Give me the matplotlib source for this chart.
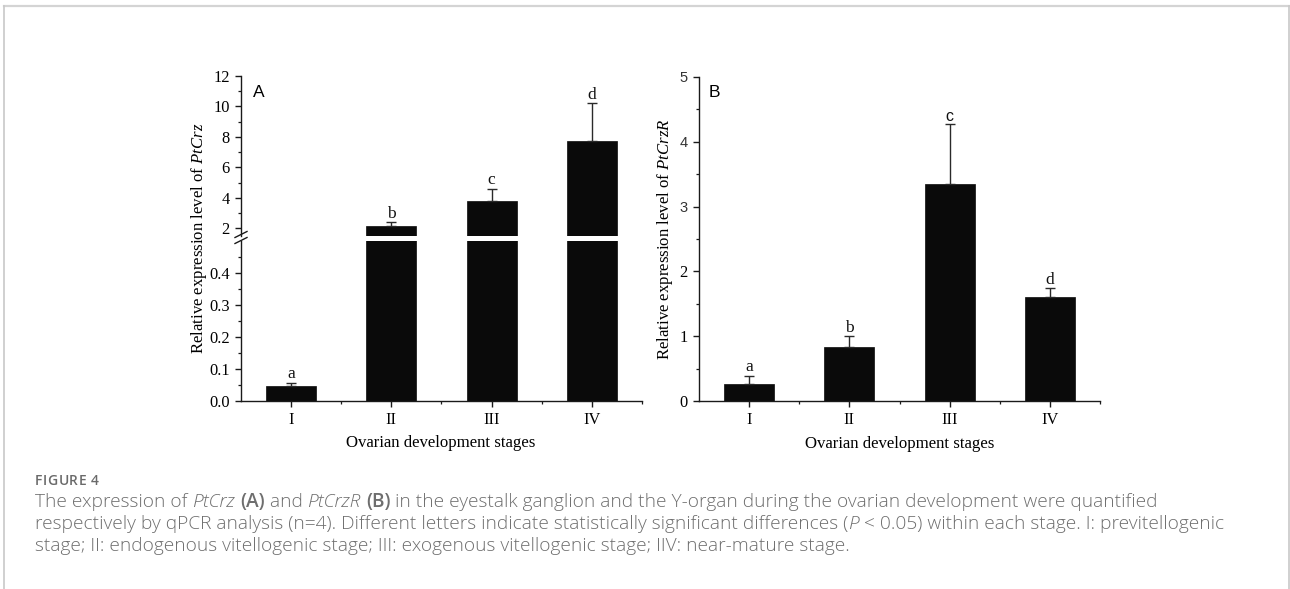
import matplotlib
matplotlib.use("Agg")
import matplotlib.pyplot as plt
from matplotlib.lines import Line2D
from matplotlib.font_manager import FontProperties
import numpy as np

plt.rcParams["mathtext.fontset"] = "custom"
plt.rcParams["mathtext.it"] = "Liberation Serif:italic"
plt.rcParams["mathtext.rm"] = "Liberation Serif"

# ---------------- data ----------------
stages = ["I", "II", "III", "IV"]
crz_mean = [0.048, 2.13, 3.82, 7.74]
crz_err = [0.009, 0.26, 0.78, 2.48]
crz_letters = ["a", "b", "c", "d"]
crzr_mean = [0.26, 0.83, 3.35, 1.60]
crzr_err = [0.13, 0.17, 0.92, 0.14]
crzr_letters = ["a", "b", "c", "d"]

W, H = 1290, 589
DPI = 100
fig = plt.figure(figsize=(W / DPI, H / DPI), dpi=DPI)
fig.patch.set_facecolor("white")

SERIF = ["Liberation Serif", "DejaVu Serif"]
SANS = ["Liberation Sans", "DejaVu Sans"]
BAR_C = "#0a0a0a"
ERR_C = "#2a2a2a"
TICK_FS = 11.8
LAB_FS = 12.1
LET_FS = 12.5


def px_axes(x0, y_top, x1, y_bot):
    return fig.add_axes([x0 / W, 1 - y_bot / H, (x1 - x0) / W, (y_bot - y_top) / H])


def style_axes(ax):
    for s in ["top", "right"]:
        ax.spines[s].set_visible(False)
    for s in ["left", "bottom"]:
        ax.spines[s].set_linewidth(1.0)
        ax.spines[s].set_color("#1a1a1a")
    ax.tick_params(which="major", direction="out", length=4, width=1.0,
                   labelsize=TICK_FS, color="#1a1a1a", pad=4)
    ax.tick_params(axis="x", which="major", pad=4)
    ax.tick_params(which="minor", direction="out", length=2.5, width=0.9,
                   color="#1a1a1a")
    for lab in ax.get_xticklabels() + ax.get_yticklabels():
        lab.set_fontfamily(SERIF)


def draw_bars(ax, means, errs, letters, show_letters=True, lo=None, hi=None,
              sans_letters=()):
    x = np.arange(1, len(means) + 1)
    ax.bar(x, means, width=0.5, color=BAR_C, edgecolor=BAR_C, linewidth=0.5, zorder=2)
    for xi, m, e, lt in zip(x, means, errs, letters):
        if lo is not None and not (lo <= m + e <= hi):
            continue
        ax.errorbar([xi], [m], yerr=[[0], [e]], fmt="none", ecolor=ERR_C,
                    elinewidth=1.0, capsize=3.5, capthick=1.0, zorder=3)
        if show_letters:
            fam = SANS if lt in sans_letters else SERIF
            ax.annotate(lt, (xi, m + e), xytext=(0, 0.3), textcoords="offset points",
                        ha="center", va="bottom",
                        fontsize=LET_FS - (1 if lt in sans_letters else 0),
                        fontfamily=fam, color="#111111")


def set_xcats(ax):
    ax.set_xlim(0.5, 4.5)
    ax.set_xticks(np.arange(1, 5))
    ax.set_xticks(np.arange(1.5, 4.6, 1.0), minor=True)
    ax.set_xticklabels(stages)


# ---------------- Panel A (broken axis) ----------------
axA_lo = px_axes(241, 241, 642, 401)
axA_hi = px_axes(241, 76, 642, 236)

draw_bars(axA_lo, crz_mean, crz_err, crz_letters, lo=0, hi=0.5)
axA_lo.set_ylim(0, 0.5)
axA_lo.set_yticks([0.0, 0.1, 0.2, 0.3, 0.4])
axA_lo.set_yticks(np.arange(0.05, 0.5, 0.1), minor=True)
axA_lo.set_yticklabels(["0.0", "0.1", "0.2", "0.3", "0.4"])
set_xcats(axA_lo)
style_axes(axA_lo)

draw_bars(axA_hi, crz_mean, crz_err, crz_letters, lo=1.5, hi=12)
axA_hi.set_ylim(1.5, 12)
axA_hi.set_yticks([2, 4, 6, 8, 10, 12])
axA_hi.set_yticks([3, 5, 7, 9, 11], minor=True)
axA_hi.set_xlim(0.5, 4.5)
axA_hi.set_xticks([])
axA_hi.spines["bottom"].set_visible(False)
style_axes(axA_hi)
axA_hi.tick_params(axis="x", which="both", bottom=False, labelbottom=False)

# break marks
for yb in (234.5, 240.5):
    fig.add_artist(Line2D([(241 - 6) / W, (241 + 6) / W],
                          [1 - (yb + 3) / H, 1 - (yb - 3) / H],
                          color="#1a1a1a", lw=1.0))

axA_hi.text(0.03, 0.895, "A", transform=axA_hi.transAxes, fontsize=12.5,
            fontfamily=SANS, ha="left", va="center")
fig.text(199 / W, 1 - 238 / H, "Relative expression level of $\\mathit{PtCrz}$",
         rotation=90, ha="center", va="center", fontsize=LAB_FS, fontfamily=SERIF)
fig.text(441 / W, 1 - 443 / H, "Ovarian development stages", ha="center",
         va="center", fontsize=LAB_FS, fontfamily=SERIF)

# ---------------- Panel B ----------------
axB = px_axes(699, 77, 1100, 401)
draw_bars(axB, crzr_mean, crzr_err, crzr_letters, sans_letters=("c",))
axB.set_ylim(0, 5)
axB.set_yticks([0, 1, 2, 3, 4, 5])
axB.set_yticks(np.arange(0.5, 5, 1.0), minor=True)
set_xcats(axB)
style_axes(axB)
for lab in axB.get_yticklabels():
    if lab.get_text() in ("3", "4", "5"):
        lab.set_fontfamily(SANS)
        lab.set_fontsize(TICK_FS - 1.3)
        lab.set_color("#333333")
axB.text(0.025, 0.952, "B", transform=axB.transAxes, fontsize=12.5,
         fontfamily=SANS, ha="left", va="center")
fig.text(665 / W, 1 - 239 / H, "Relative expression level of $\\mathit{PtCrzR}$",
         rotation=90, ha="center", va="center", fontsize=LAB_FS, fontfamily=SERIF)
fig.text(900 / W, 1 - 444 / H, "Ovarian development stages", ha="center",
         va="center", fontsize=LAB_FS, fontfamily=SERIF)

# ---------------- frame ----------------
fig.add_artist(Line2D([4 / W, 1288.5 / W], [1 - 5.5 / H, 1 - 5.5 / H], color="#d4d4d4", lw=1.6))
fig.add_artist(Line2D([4 / W, 4 / W], [0, 1 - 5.5 / H], color="#c8c8c8", lw=1.2))
fig.add_artist(Line2D([1288.5 / W, 1288.5 / W], [0, 1 - 5.5 / H], color="#c8c8c8", lw=1.2))

# ---------------- caption ----------------
CAP_FAM = ["Open Sans", "DejaVu Sans"]
CAP_C = "#6e6e6e"
renderer = fig.canvas.get_renderer()


def make_fp(sty, fs):
    return FontProperties(family=CAP_FAM, size=fs,
                          style="italic" if "i" in sty else "normal",
                          weight="semibold" if ("b" in sty or "s" in sty) else "light")


def adv(s, fp):
    if not s:
        return 0.0
    w1, _, _ = renderer.get_text_width_height_descent(s + "l", fp, ismath=False)
    w0, _, _ = renderer.get_text_width_height_descent("l", fp, ismath=False)
    return w1 - w0


def tracked_line(x_px, y_px, pieces, fs, track, color=CAP_C):
    x = x_px
    for txt, sty in pieces:
        fp = make_fp(sty, fs)
        for i, c in enumerate(txt):
            if c == " ":
                continue
            xi = x + adv(txt[:i], fp) + i * track
            fig.text(xi / W, 1 - y_px / H, c, fontproperties=fp, color=color,
                     va="baseline", ha="left")
        x += adv(txt, fp) + len(txt) * track


def rich_line(x_px, y_px, pieces, fs, color=CAP_C):
    x = x_px
    for txt, sty in pieces:
        fp = make_fp(sty, fs)
        fig.text(x / W, 1 - y_px / H, txt, fontproperties=fp, color=color,
                 va="baseline", ha="left")
        x += adv(txt, fp)


tracked_line(35, 485, [("FIGURE 4", "s")], 10.0, 0.5, color="#6a6a6a")

line1 = [("The expression of ", ""), ("PtCrz", "i"), (" ", ""), ("(A)", "b"),
         (" and ", ""), ("PtCrzR", "i"), (" ", ""), ("(B)", "b"),
         (" in the eyestalk ganglion and the Y-organ during the ovarian development were quantified", "")]
line2 = [("respectively by qPCR analysis (n=4). Different letters indicate statistically significant differences (", ""),
         ("P", "i"), (" < 0.05) within each stage. I: previtellogenic", "")]
line3 = [("stage; II: endogenous vitellogenic stage; III: exogenous vitellogenic stage; IIV: near-mature stage.", "")]

CAP_FS = 13.8
rich_line(35, 507, line1, CAP_FS)
rich_line(35, 529, line2, CAP_FS)
rich_line(35, 551, line3, CAP_FS)

fig.savefig("out.png", dpi=DPI, facecolor="white")
